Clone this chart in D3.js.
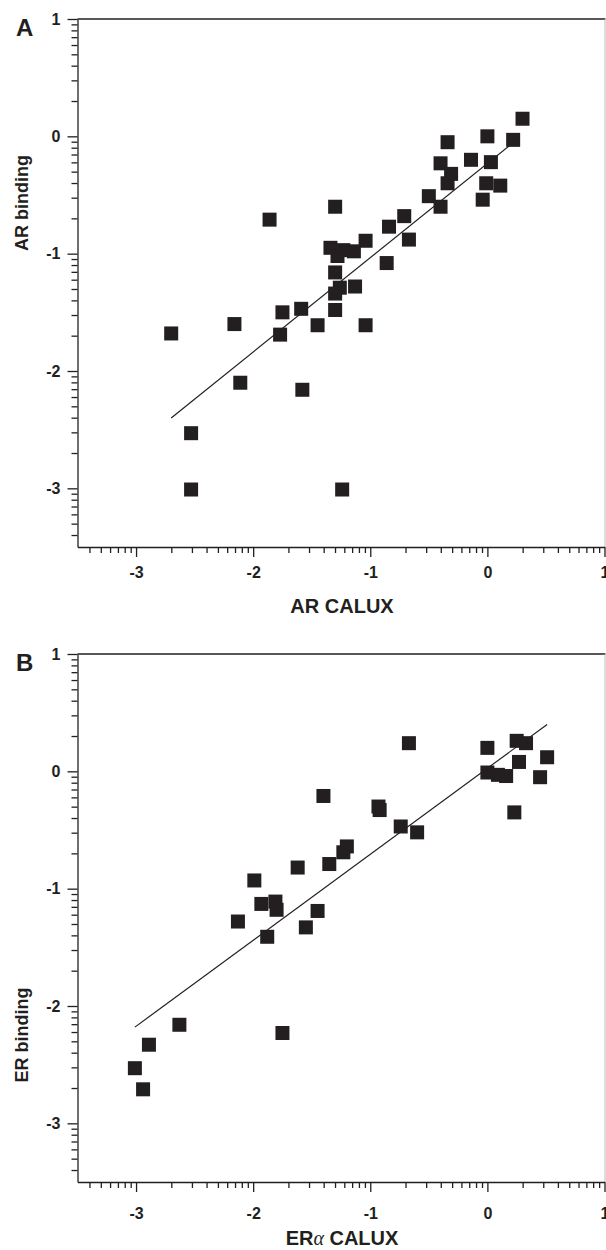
<!DOCTYPE html>
<html>
<head>
<meta charset="utf-8">
<script src="https://cdn.jsdelivr.net/npm/d3@7"></script>
<style>
    body { margin: 0; background: #fff; }
    svg text { font-family: "Liberation Sans", Arial, sans-serif; font-weight: bold; fill: #231f20; }
    .axis path, .axis line { stroke: #231f20; stroke-width: 1.3px; }
    .axis text { font-size: 16px; }
</style>
</head>
<body>
<div id="chartArea"></div>
<script>
///////////////////////////// DATA /////////////////////////////////////

// panel A : AR CALUX vs AR binding
var arCalux = [0.30, 0.00, 0.22, -0.34, -0.14, 0.03, -0.40, -0.31, -0.34, -0.01, 0.11, -0.04,
    -0.50, -0.40, -1.30, -1.86, -0.71, -0.84, -0.67, -1.04, -1.34, -1.23, -1.14, -1.28,
    -0.86, -1.30, -1.13, -1.26, -1.30, -1.75, -1.59, -1.30, -2.16, -1.45, -1.04, -1.77,
    -2.70, -2.11, -1.58, -2.53, -2.53, -1.24];
var arBinding = [0.15, 0.00, -0.03, -0.05, -0.20, -0.22, -0.23, -0.32, -0.40, -0.40, -0.42, -0.54,
    -0.51, -0.60, -0.60, -0.71, -0.68, -0.77, -0.88, -0.89, -0.95, -0.97, -0.98, -1.02,
    -1.08, -1.16, -1.28, -1.29, -1.34, -1.50, -1.47, -1.48, -1.60, -1.61, -1.61, -1.69,
    -1.68, -2.10, -2.16, -2.53, -3.01, -3.01];
var arFitX = [-2.70, 0.20];
var arFitY = [-2.40, -0.07];

// panel B : ERa CALUX vs ER binding
var erCalux = [-0.67, 0.00, 0.25, 0.33, 0.51, 0.27, 0.00, 0.09, 0.16, 0.45, 0.23, -1.40,
    -0.93, -0.92, -0.74, -0.60, -1.20, -1.23, -1.35, -1.62, -1.99, -1.93, -1.81, -1.80,
    -1.45, -2.13, -1.55, -1.88, -2.63, -1.75, -2.89, -3.01, -2.94];
var erBinding = [0.24, 0.20, 0.26, 0.24, 0.12, 0.08, -0.01, -0.03, -0.04, -0.05, -0.35, -0.21,
    -0.30, -0.33, -0.47, -0.52, -0.64, -0.69, -0.79, -0.82, -0.93, -1.13, -1.11, -1.18,
    -1.19, -1.28, -1.33, -1.41, -2.16, -2.23, -2.33, -2.53, -2.71];
var erFitX = [-3.01, 0.51];
var erFitY = [-2.18, 0.40];

var xMajor = [-3, -2, -1, 0, 1];
var yMajor = [1, 0, -1, -2, -3];

///////////////////////////// LAYOUT /////////////////////////////////////

var width = 606, height = 1250;
var left = 77.5, right = 604.5;

svg = d3.select("#chartArea").append("svg")
    .attr("width", width)
    .attr("height", height);

// minor ticks like a log axis : d + log10(k)
function minorTicks(lo, hi) {
    var t = [];
    for (var d = -4; d < 1; d++) {
        for (var k = 2; k <= 9; k++) {
            var v = d + Math.log10(k);
            if (v >= lo && v <= hi) t.push(v);
        }
    }
    return t;
}

// plain hyphen for negatives, like the original
function fmt(d) {
    return String(d);
}

///////////////////////////// PANEL DRAWING /////////////////////////////////////

function drawPanel(p) {
    var x = d3.scaleLinear().domain([-3.5, 1]).range([left, right]);
    var y = d3.scaleLinear().domain([-3.5, 1]).range([p.bottom, p.top]);

    var g = svg.append("g");

    // frame top / right
    g.append("line")
        .attr("x1", left).attr("x2", right + 1)
        .attr("y1", p.top).attr("y2", p.top)
        .style("stroke", "#231f20").style("stroke-width", 1.3);
    g.append("line")
        .attr("x1", right + 0.5).attr("x2", right + 0.5)
        .attr("y1", p.top).attr("y2", p.bottom)
        .style("stroke", "#bbb").style("stroke-width", 1);

    // x axis
    g.append("g")
        .attr("class", "axis")
        .attr("transform", "translate(0," + p.bottom + ")")
        .call(d3.axisBottom(x).tickValues(minorTicks(-3.5, 1)).tickSize(6).tickSizeOuter(0).tickFormat(""));
    var xa = g.append("g")
        .attr("class", "axis")
        .attr("transform", "translate(0," + p.bottom + ")")
        .call(d3.axisBottom(x).tickValues(xMajor).tickSize(10).tickSizeOuter(0).tickFormat(fmt));
    xa.selectAll("text").attr("y", p.xLabelY - p.bottom).attr("dy", 0);
    xa.select(".domain").remove();

    // y axis
    g.append("g")
        .attr("class", "axis")
        .attr("transform", "translate(" + left + ",0)")
        .call(d3.axisLeft(y).tickValues(minorTicks(-3.5, 1)).tickSize(6).tickSizeOuter(0).tickFormat(""));
    var ya = g.append("g")
        .attr("class", "axis")
        .attr("transform", "translate(" + left + ",0)")
        .call(d3.axisLeft(y).tickValues(yMajor).tickSize(10).tickSizeOuter(0).tickFormat(fmt));
    ya.selectAll("text").attr("x", -17);
    ya.select(".domain").remove();

    // fit line
    g.append("line")
        .attr("x1", x(p.fitX[0])).attr("y1", y(p.fitY[0]))
        .attr("x2", x(p.fitX[1])).attr("y2", y(p.fitY[1]))
        .style("stroke", "#231f20").style("stroke-width", 1.2);

    // square markers
    g.selectAll("rect.pt")
        .data(p.xs)
        .enter().append("rect")
        .attr("class", "pt")
        .attr("x", function(d) { return x(d) - 7; })
        .attr("y", function(d, i) { return y(p.ys[i]) - 7; })
        .attr("width", 14)
        .attr("height", 14)
        .style("fill", "#231f20");

    // titles
    var xt = g.append("text")
        .attr("x", 342)
        .attr("y", p.xTitleY)
        .style("text-anchor", "middle")
        .style("font-size", "20px");
    xt.append("tspan").text(p.xTitle[0]);
    if (p.xTitle.length > 2) {
        xt.append("tspan").text(p.xTitle[1])
            .style("font-family", "'Liberation Serif', serif")
            .style("font-weight", "normal").style("font-style", "italic");
        xt.append("tspan").text(p.xTitle[2]);
    } else {
        xt.append("tspan").text(p.xTitle[1]);
    }

    g.append("text")
        .attr("transform", "translate(" + 28 + "," + p.yTitleY + ") rotate(-90)")
        .style("text-anchor", "middle")
        .style("font-size", "18px")
        .text(p.yTitle);

    g.append("text")
        .attr("x", 16)
        .attr("y", p.top + 17)
        .style("font-size", "24px")
        .text(p.letter);
}

drawPanel({
    letter: "A", top: 19, bottom: 547,
    xs: arCalux, ys: arBinding, fitX: arFitX, fitY: arFitY,
    xLabelY: 578, xTitleY: 613, yTitleY: 203,
    xTitle: ["AR", " CALUX"], yTitle: "AR binding"
});

drawPanel({
    letter: "B", top: 654, bottom: 1182,
    xs: erCalux, ys: erBinding, fitX: erFitX, fitY: erFitY,
    xLabelY: 1219, xTitleY: 1245, yTitleY: 1035,
    xTitle: ["ER", "α", " CALUX"], yTitle: "ER binding"
});
</script>
</body>
</html>
